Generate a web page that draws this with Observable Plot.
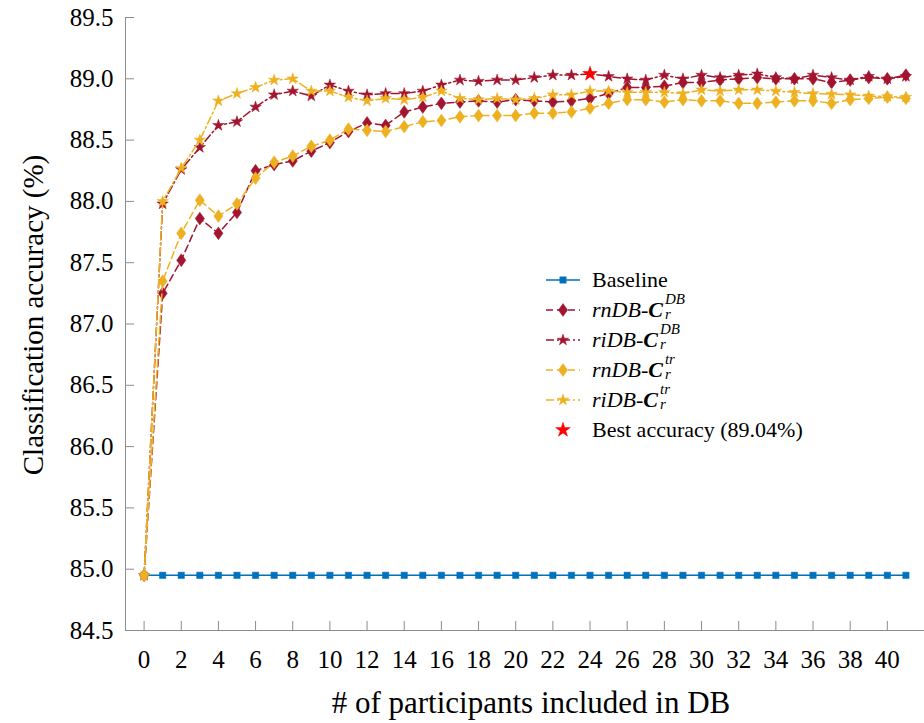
<!DOCTYPE html>
<html>
<head>
<meta charset="utf-8">
<script src="https://cdn.jsdelivr.net/npm/d3@7"></script>
<script src="https://cdn.jsdelivr.net/npm/@observablehq/plot@0.6"></script>
<style>
  html, body { margin: 0; padding: 0; background: #fff; overflow: hidden; }
  #wrap { position: relative; width: 924px; height: 723px; }
  #chart svg, #chart svg text { font-family: "Liberation Serif", "Times New Roman", "DejaVu Serif", serif !important; }
  #legend { position: absolute; left: 545px; top: 265px; font-family: "Liberation Serif", "Times New Roman", "DejaVu Serif", serif; font-size: 22px; color: #000; }
  .row { display: flex; align-items: center; height: 30px; white-space: nowrap; }
  .row svg { margin-right: 11px; flex: none; }
  .ss { display: inline-block; position: relative; width: 22px; height: 20px; vertical-align: -3px; }
  .ss .sup { position: absolute; left: 2px; top: -9px; font-size: 15px; font-style: italic; }
  .ss .sub { position: absolute; left: 2px; top: 6px; font-size: 15px; font-style: italic; }
</style>
</head>
<body>
<div id="wrap">
  <div id="chart"></div>
  <div id="legend"></div>
</div>
<script>
// ---- data ----
const participants = [0,1,2,3,4,5,6,7,8,9,10,11,12,13,14,15,16,17,18,19,20,21,22,23,24,25,26,27,28,29,30,31,32,33,34,35,36,37,38,39,40,41];
const baseline = [84.95,84.95,84.95,84.95,84.95,84.95,84.95,84.95,84.95,84.95,84.95,84.95,84.95,84.95,84.95,84.95,84.95,84.95,84.95,84.95,84.95,84.95,84.95,84.95,84.95,84.95,84.95,84.95,84.95,84.95,84.95,84.95,84.95,84.95,84.95,84.95,84.95,84.95,84.95,84.95,84.95,84.95];
const rnDB_DB = [84.95,87.25,87.52,87.86,87.74,87.91,88.25,88.30,88.33,88.41,88.48,88.57,88.64,88.62,88.73,88.77,88.80,88.81,88.82,88.81,88.83,88.82,88.81,88.82,88.84,88.88,88.93,88.93,88.94,88.97,88.97,88.99,89.00,89.01,89.00,89.00,89.00,88.97,88.99,89.01,89.00,89.03];
const riDB_DB = [84.95,87.98,88.26,88.44,88.62,88.65,88.77,88.87,88.90,88.86,88.95,88.90,88.87,88.88,88.88,88.90,88.95,88.99,88.98,88.99,88.99,89.01,89.03,89.03,89.04,89.02,89.00,88.99,89.03,89.00,89.03,89.01,89.03,89.04,89.01,89.00,89.03,89.01,88.99,89.02,89.00,89.02];
const rnDB_tr = [84.95,87.35,87.74,88.01,87.88,87.98,88.19,88.32,88.37,88.45,88.50,88.59,88.58,88.57,88.61,88.65,88.66,88.69,88.70,88.70,88.70,88.72,88.72,88.73,88.76,88.80,88.83,88.83,88.81,88.83,88.82,88.82,88.80,88.80,88.81,88.82,88.82,88.80,88.83,88.84,88.85,88.84];
const riDB_tr = [84.95,88.00,88.27,88.50,88.82,88.88,88.93,88.99,89.00,88.90,88.90,88.85,88.82,88.84,88.83,88.85,88.90,88.84,88.83,88.84,88.83,88.84,88.87,88.87,88.90,88.90,88.89,88.89,88.89,88.88,88.91,88.90,88.91,88.91,88.90,88.89,88.88,88.875,88.87,88.86,88.855,88.85];
const bestX = [24];
const bestY = [89.04];
const xTicks = [0,2,4,6,8,10,12,14,16,18,20,22,24,26,28,30,32,34,36,38,40];
const yTicks = [84.5,85.0,85.5,86.0,86.5,87.0,87.5,88.0,88.5,89.0,89.5];
const xLabel = "# of participants included in DB";
const yLabel = "Classification accuracy (%)";

// ---- styles ----
const FONT = "Liberation Serif, Times New Roman, DejaVu Serif, serif";
const BLUE = "#0072BD", RED = "#A2142F", ORANGE = "#EDB120";
const DASH = "7,4", DASHDOT = "8,3,2,3";
const diamond = {
  draw(ctx, size) {
    const r = Math.sqrt(size / Math.PI);
    ctx.moveTo(0, -1.6 * r);
    ctx.lineTo(1.15 * r, 0);
    ctx.lineTo(0, 1.6 * r);
    ctx.lineTo(-1.15 * r, 0);
    ctx.closePath();
  }
};

const series = [
  {key: "Baseline", values: baseline, color: BLUE, dash: null, symbol: d3.symbolSquare, r: 3.6},
  {key: "rnDB-DB", values: rnDB_DB, color: RED, dash: DASH, symbol: diamond, r: 4},
  {key: "riDB-DB", values: riDB_DB, color: RED, dash: DASHDOT, symbol: d3.symbolStar, r: 3.6},
  {key: "rnDB-tr", values: rnDB_tr, color: ORANGE, dash: DASH, symbol: diamond, r: 4},
  {key: "riDB-tr", values: riDB_tr, color: ORANGE, dash: DASHDOT, symbol: d3.symbolStar, r: 3.6}
];

const marks = [];
for (const s of series) {
  const rows = participants.map((p, i) => ({x: p, y: s.values[i]}));
  marks.push(Plot.line(rows, {x: "x", y: "y", stroke: s.color, strokeWidth: 1.5, strokeDasharray: s.dash || undefined}));
  marks.push(Plot.dot(rows, {x: "x", y: "y", symbol: s.symbol, r: s.r, fill: s.color, stroke: s.color, strokeWidth: 0.5}));
}
const bestRows = bestX.map((x, i) => ({x, y: bestY[i]}));
marks.push(Plot.dot(bestRows, {x: "x", y: "y", symbol: d3.symbolStar, r: 4.6, fill: "#FF0000", stroke: "#FF0000", strokeWidth: 0.5}));

const chart = Plot.plot({
  width: 924, height: 723,
  marginLeft: 125, marginRight: 0, marginTop: 17, marginBottom: 93,
  x: {domain: [-1, 42]},
  y: {domain: [84.5, 89.5]},
  style: {fontFamily: FONT, background: "#fff", color: "#000"},
  marks: [
    Plot.ruleX([-1], {stroke: "#8c8c8c", strokeWidth: 1}),
    Plot.ruleY([84.5], {stroke: "#8c8c8c", strokeWidth: 1}),
    Plot.axisX(xTicks, {tickSize: -9, tickPadding: 29, stroke: "#8c8c8c", fill: "#000", fontSize: 25, fontFamily: FONT, label: null, tickFormat: d => String(d)}),
    Plot.axisY(yTicks, {tickSize: -9, tickPadding: 21, stroke: "#8c8c8c", fill: "#000", fontSize: 25, fontFamily: FONT, label: null, tickFormat: d => d.toFixed(1)}),
    Plot.text([yLabel], {frameAnchor: "left", textAnchor: "middle", lineAnchor: "middle", dx: -92, dy: -9, rotate: -90, fontSize: 29, fontFamily: FONT, fill: "#000", text: d => d}),
    Plot.text([xLabel], {frameAnchor: "bottom", textAnchor: "middle", lineAnchor: "middle", dx: 6, dy: 73, fontSize: 31, fontFamily: FONT, fill: "#000", text: d => d}),
    ...marks
  ]
});
document.getElementById("chart").appendChild(chart);

// ---- legend ----
function symPath(sym, r) { return d3.symbol(sym, r * r * Math.PI)(); }
const legendItems = [
  {series: series[0], html: "Baseline"},
  {series: series[1], html: '<i>rnDB-</i><b><i>C</i></b><span class="ss"><span class="sup">DB</span><span class="sub">r</span></span>'},
  {series: series[2], html: '<i>riDB-</i><b><i>C</i></b><span class="ss"><span class="sup">DB</span><span class="sub">r</span></span>'},
  {series: series[3], html: '<i>rnDB-</i><b><i>C</i></b><span class="ss"><span class="sup">tr</span><span class="sub">r</span></span>'},
  {series: series[4], html: '<i>riDB-</i><b><i>C</i></b><span class="ss"><span class="sup">tr</span><span class="sub">r</span></span>'},
  {series: {color: "#FF0000", dash: null, symbol: d3.symbolStar, r: 4.6, noLine: true}, html: "Best accuracy (89.04%)"}
];
const leg = document.getElementById("legend");
for (const it of legendItems) {
  const s = it.series;
  const row = document.createElement("div");
  row.className = "row";
  const line = s.noLine ? "" :
    `<line x1="1" x2="35" y1="15" y2="15" stroke="${s.color}" stroke-width="1.5" ${s.dash ? `stroke-dasharray="${s.dash}"` : ""}/>`;
  row.innerHTML = `<svg width="36" height="30">${line}<path transform="translate(18,15)" d="${symPath(s.symbol, s.r)}" fill="${s.color}" stroke="${s.color}" stroke-width="0.5"/></svg><span>${it.html}</span>`;
  leg.appendChild(row);
}
</script>
</body>
</html>
